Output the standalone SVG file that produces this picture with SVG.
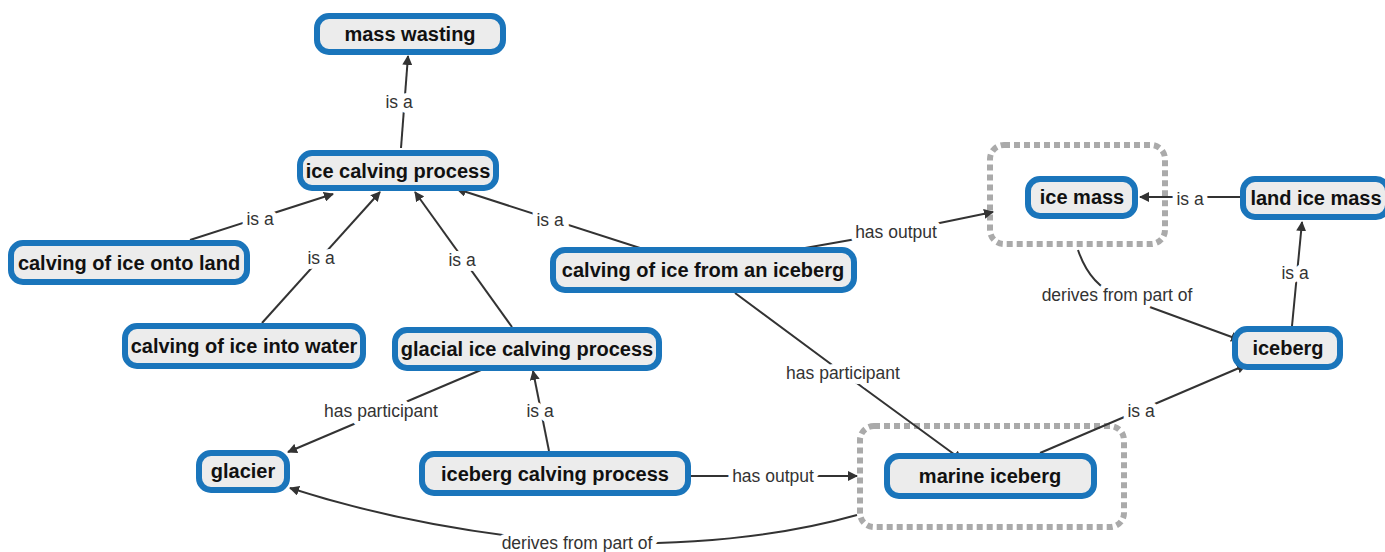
<svg xmlns="http://www.w3.org/2000/svg" width="1385" height="552" viewBox="0 0 1385 552">
<defs>
<marker id="ah" viewBox="0 0 10 10" refX="9" refY="5" markerWidth="10" markerHeight="10" markerUnits="userSpaceOnUse" orient="auto">
<path d="M0,0 L10,5 L0,10 z" fill="#333"/>
</marker>
<style>
.n rect{fill:#ececec;stroke:#1a75bb;stroke-width:6}
.n text{font-family:"Liberation Sans",Arial,sans-serif;font-weight:bold;font-size:20px;fill:#111;text-anchor:middle}
.grp{fill:none;stroke:#aaa;stroke-width:6;stroke-dasharray:6 4}
.c path{fill:none;stroke:#333;stroke-width:2}
.c .a{marker-end:url(#ah)}
.c text{font-family:"Liberation Sans",Arial,sans-serif;font-size:17.5px;fill:#333;text-anchor:middle;stroke:#fff;stroke-width:10;paint-order:stroke;stroke-linejoin:round}
</style>
</defs>
<rect width="1385" height="552" fill="#fff"/>
<g id="groups">
<rect class="grp" x="990" y="145" width="175" height="99" rx="14"/>
<rect class="grp" x="860" y="426" width="264" height="101" rx="14"/>
</g>
<g id="connectors" class="c">
<path class="a" d="M401,148 L408,56"/><text x="399" y="108">is a</text>
<path class="a" d="M190,240 L333,194"/><text x="260" y="225">is a</text>
<path class="a" d="M262,323 L380,192"/><text x="321" y="264">is a</text>
<path class="a" d="M512,327 L415,192"/><text x="462" y="266">is a</text>
<path class="a" d="M640,248 L457,189"/><text x="550" y="226">is a</text>
<path class="a" d="M805,248 L896,232 L993,212"/><text x="896" y="238">has output</text>
<path class="a" d="M735,293 L843,373 L962,460"/><text x="843" y="379">has participant</text>
<path class="a" d="M1240,197 L1140,197"/><text x="1190" y="205">is a</text>
<path class="a" d="M1078,250 Q1090,285 1117,295 L1240,340"/><text x="1117" y="301">derives from part of</text>
<path class="a" d="M1292,326 L1302,222"/><text x="1295" y="279">is a</text>
<path class="a" d="M1040,453 L1246,365"/><text x="1141" y="417">is a</text>
<path class="a" d="M481,370 L288,452"/><text x="381" y="417">has participant</text>
<path class="a" d="M549,451 L533,371"/><text x="540" y="417">is a</text>
<path class="a" d="M691,476 L857,476"/><text x="773" y="482">has output</text>
<path class="a" d="M857,515 Q740,548 577,543 Q420,530 290,488"/><text x="577" y="549">derives from part of</text>
</g>
<g id="mass-wasting" class="n"><rect x="317" y="16" width="186" height="36" rx="12"/><text x="410" y="41">mass wasting</text></g>
<g id="ice-calving-process" class="n"><rect x="300" y="153" width="196" height="35" rx="12"/><text x="398" y="178">ice calving process</text></g>
<g id="calving-onto-land" class="n"><rect x="11" y="243" width="236" height="39" rx="12"/><text x="129" y="270">calving of ice onto land</text></g>
<g id="calving-into-water" class="n"><rect x="125" y="326" width="238" height="40" rx="12"/><text x="244" y="353">calving of ice into water</text></g>
<g id="glacial-ice-calving" class="n"><rect x="395" y="330" width="264" height="38" rx="12"/><text x="527" y="356">glacial ice calving process</text></g>
<g id="calving-from-iceberg" class="n"><rect x="553" y="250" width="301" height="40" rx="12"/><text x="703" y="277">calving of ice from an iceberg</text></g>
<g id="ice-mass" class="n"><rect x="1028" y="179" width="107" height="37" rx="12"/><text x="1082" y="204">ice mass</text></g>
<g id="land-ice-mass" class="n"><rect x="1243" y="179" width="145" height="38" rx="12"/><text x="1316" y="205">land ice mass</text></g>
<g id="iceberg" class="n"><rect x="1235" y="329" width="105" height="38" rx="12"/><text x="1288" y="355">iceberg</text></g>
<g id="glacier" class="n"><rect x="199" y="453" width="88" height="37" rx="12"/><text x="243" y="478">glacier</text></g>
<g id="iceberg-calving-process" class="n"><rect x="422" y="454" width="266" height="39" rx="12"/><text x="555" y="481">iceberg calving process</text></g>
<g id="marine-iceberg" class="n"><rect x="887" y="456" width="207" height="40" rx="12"/><text x="990" y="483">marine iceberg</text></g>
</svg>
